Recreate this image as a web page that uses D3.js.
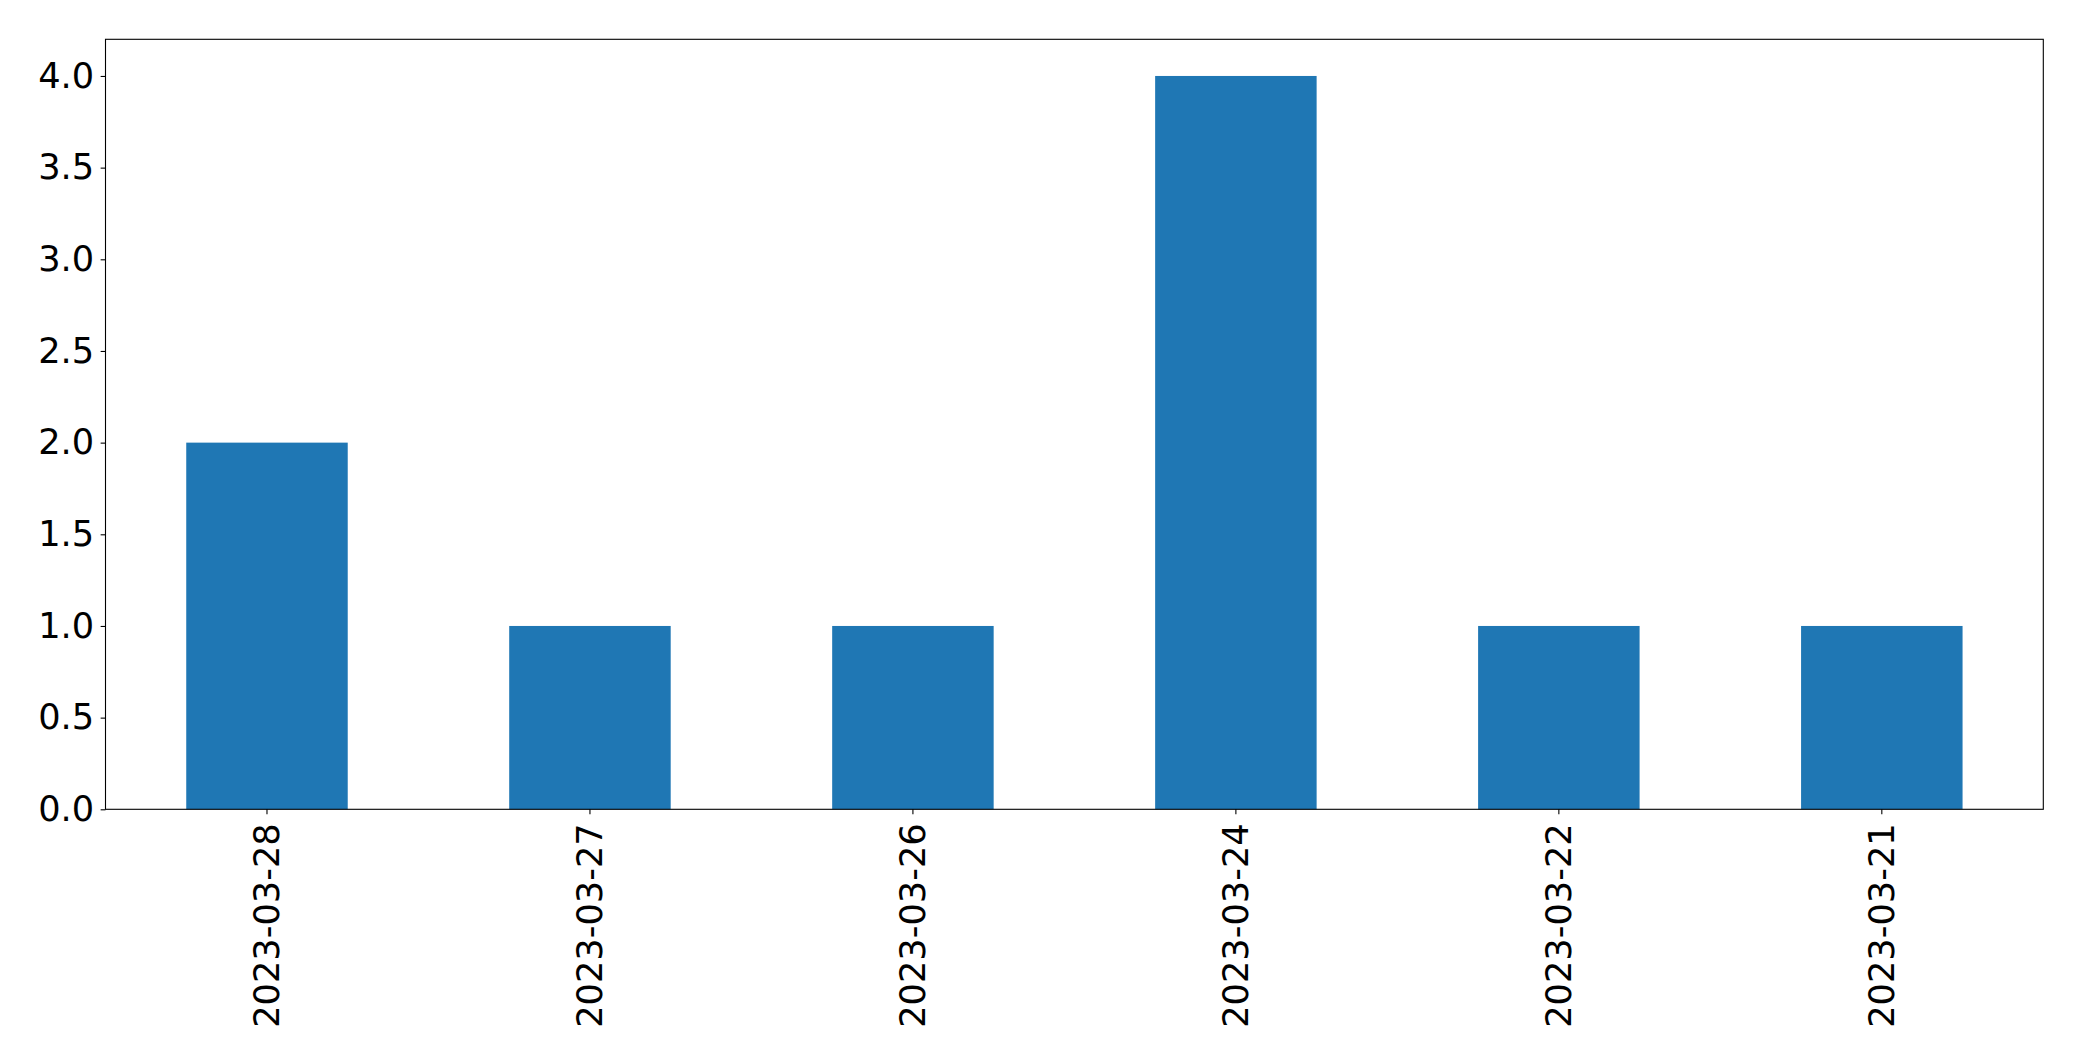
<!DOCTYPE html>
<html><head><meta charset="utf-8">
<script src="https://cdn.jsdelivr.net/npm/d3@7"></script>
<style>body{margin:0;background:#fff;} text{font-family:"DejaVu Sans";}</style>
</head><body>
<svg id="c" width="2082" height="1061"></svg>
<script>
const categories = ["2023-03-28","2023-03-27","2023-03-26","2023-03-24","2023-03-22","2023-03-21"];
const values = [2,1,1,4,1,1];
const yTicks = [0,0.5,1,1.5,2,2.5,3,3.5,4];

const m = {left:105.5, right:2043.3, top:39.3, bottom:809.3};
const svg = d3.select("#c");
const x = d3.scaleBand().domain(categories).range([m.left, m.right]).paddingInner(0.5).paddingOuter(0.25);
const y = d3.scaleLinear().domain([0, 4.2]).range([m.bottom, m.top]);

svg.append("g").selectAll("rect").data(values).join("rect")
  .attr("x",(d,i)=>x(categories[i])).attr("width",x.bandwidth())
  .attr("y",d=>y(d)).attr("height",d=>y(0)-y(d)).attr("fill","#1f77b4");

const fs = "35.2px";
const ya = svg.append("g").attr("transform",`translate(${m.left},0)`)
  .call(d3.axisLeft(y).tickValues(yTicks).tickFormat(d3.format(".1f")).tickSize(4.86).tickPadding(6.5));
ya.select(".domain").remove();
ya.selectAll("text").attr("font-size",fs).attr("font-family","DejaVu Sans").attr("fill","#000");
ya.selectAll("line").attr("stroke","#000").attr("stroke-width",1.1);

const xa = svg.append("g").attr("transform",`translate(0,${m.bottom})`)
  .call(d3.axisBottom(x).tickSize(4.86).tickPadding(0));
xa.select(".domain").remove();
xa.selectAll("line").attr("stroke","#000").attr("stroke-width",1.1);
xa.selectAll("text").attr("font-size",fs).attr("font-family","DejaVu Sans").attr("fill","#000")
  .attr("transform","translate(0,14) rotate(-90)").attr("text-anchor","end").attr("dy","0.35em").attr("y",0).attr("x",0);

svg.append("rect").attr("x",m.left).attr("y",m.top).attr("width",m.right-m.left).attr("height",m.bottom-m.top)
  .attr("fill","none").attr("stroke","#000").attr("stroke-width",1.1);
</script>
</body></html>
